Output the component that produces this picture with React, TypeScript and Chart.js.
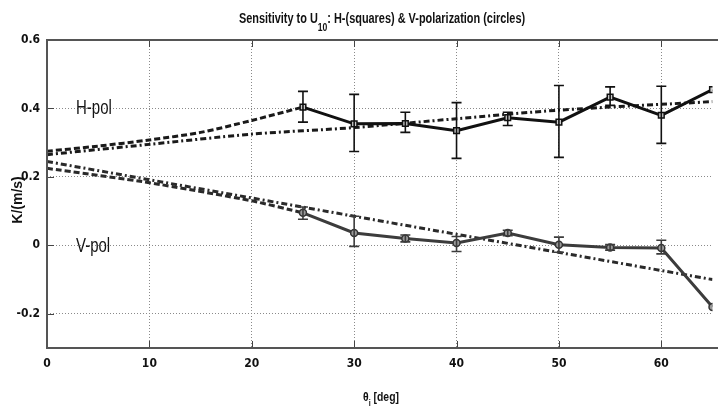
import React, { useEffect, useRef } from "react";
import { Chart, registerables } from "chart.js";
Chart.register(...registerables);

// ---- data ----
const angles = [25, 30, 35, 40, 45, 50, 55, 60, 65];
const hPol = [0.404, 0.355, 0.356, 0.335, 0.373, 0.36, 0.433, 0.38, 0.455];
const hLow = [0.36, 0.274, 0.33, 0.254, 0.35, 0.257, 0.409, 0.298, null];
const hHigh = [0.45, 0.441, 0.389, 0.417, 0.389, 0.467, 0.463, 0.465, null];
const vPol = [0.095, 0.036, 0.02, 0.007, 0.036, 0.002, -0.006, -0.008, -0.18];
const vLow = [0.076, -0.003, 0.01, -0.018, 0.028, -0.02, -0.014, -0.025, null];
const vHigh = [0.112, 0.085, 0.03, 0.026, 0.044, 0.024, 0.002, 0.015, null];

const hFitDashX = [0, 5, 10, 15, 20, 25];
const hFitDashY = [0.275, 0.29, 0.308, 0.33, 0.365, 0.404];
const hFitDotX = [0, 10, 20, 30, 40, 50, 65];
const hFitDotY = [0.265, 0.295, 0.325, 0.344, 0.37, 0.395, 0.42];
const vFitDashX = [0, 10, 20, 25];
const vFitDashY = [0.225, 0.183, 0.13, 0.095];
const vFitDotX = [0, 30, 65];
const vFitDotY = [0.245, 0.085, -0.1];

const xTicks = [0, 10, 20, 30, 40, 50, 60];
const yTicks = [-0.2, 0, 0.2, 0.4, 0.6];

const titleMain = "Sensitivity to U";
const titleSub = "10";
const titleRest = ": H-(squares) & V-polarization (circles)";
const xTitleMain = "\u03b8";
const xTitleSub = "i";
const xTitleRest = " [deg]";
const yTitle = "K/(m/s)";
const hLabel = "H-pol";
const vLabel = "V-pol";

const NARROW = '"Liberation Sans Narrow", "Arial Narrow", "DejaVu Sans Condensed", sans-serif';
const SANS = '"Liberation Sans", Arial, sans-serif';

const zip = (xs: number[], ys: (number | null)[]) => xs.map((x, i) => ({ x, y: ys[i] }));

const errorBars = {
  id: "errorBars",
  afterDatasetsDraw(chart: any) {
    const { ctx, scales } = chart;
    const sets = [
      { low: hLow, high: hHigh, color: "#111" },
      { low: vLow, high: vHigh, color: "#3c3c3c" },
    ];
    ctx.save();
    ctx.beginPath();
    ctx.rect(chart.chartArea.left, chart.chartArea.top, chart.chartArea.right - chart.chartArea.left, chart.chartArea.bottom - chart.chartArea.top);
    ctx.clip();
    sets.forEach((s) => {
      ctx.strokeStyle = s.color;
      ctx.lineWidth = 1.6;
      angles.forEach((a, i) => {
        const lo = s.low[i];
        const hi = s.high[i];
        if (lo == null || hi == null) return;
        const x = scales.x.getPixelForValue(a);
        const y1 = scales.y.getPixelForValue(lo);
        const y2 = scales.y.getPixelForValue(hi);
        ctx.beginPath();
        ctx.moveTo(x, y1);
        ctx.lineTo(x, y2);
        ctx.moveTo(x - 5, y1);
        ctx.lineTo(x + 5, y1);
        ctx.moveTo(x - 5, y2);
        ctx.lineTo(x + 5, y2);
        ctx.stroke();
      });
    });
    ctx.restore();
  },
};

function drawSubText(ctx: any, parts: [string, string, string], cx: number, baseline: number, font: string, subFont: string, subDrop: number, sx: number) {
  ctx.save();
  ctx.translate(cx, baseline);
  ctx.scale(sx, 1);
  ctx.font = font;
  const w1 = ctx.measureText(parts[0]).width;
  const w3 = ctx.measureText(parts[2]).width;
  ctx.font = subFont;
  const w2 = ctx.measureText(parts[1]).width;
  let x = -(w1 + w2 + w3) / 2;
  ctx.textAlign = "left";
  ctx.textBaseline = "alphabetic";
  ctx.font = font;
  ctx.fillText(parts[0], x, 0);
  x += w1;
  ctx.font = subFont;
  ctx.fillText(parts[1], x, subDrop);
  x += w2;
  ctx.font = font;
  ctx.fillText(parts[2], x, 0);
  ctx.restore();
}

function drawSqueezed(ctx: any, text: string, x: number, y: number, font: string, sx: number) {
  ctx.save();
  ctx.translate(x, y);
  ctx.scale(sx, 1);
  ctx.font = font;
  ctx.textAlign = "left";
  ctx.textBaseline = "middle";
  ctx.fillText(text, 0, 0);
  ctx.restore();
}

const frameAndText = {
  id: "frameAndText",
  afterDraw(chart: any) {
    const { ctx, chartArea, scales } = chart;
    const { left, top, bottom, right } = chartArea;
    ctx.save();
    // inner tick marks
    ctx.strokeStyle = "#444";
    ctx.lineWidth = 1;
    xTicks.forEach((v) => {
      const x = Math.round(scales.x.getPixelForValue(v)) + 0.5;
      ctx.beginPath();
      ctx.moveTo(x, bottom);
      ctx.lineTo(x, bottom - 7);
      ctx.moveTo(x, top);
      ctx.lineTo(x, top + 7);
      ctx.stroke();
    });
    yTicks.forEach((v) => {
      const y = Math.round(scales.y.getPixelForValue(v)) + 0.5;
      ctx.beginPath();
      ctx.moveTo(left, y);
      ctx.lineTo(left + 7, y);
      ctx.stroke();
    });
    // frame
    ctx.strokeStyle = "#555";
    ctx.lineWidth = 2;
    ctx.beginPath();
    ctx.moveTo(right + 10, top);
    ctx.lineTo(left, top);
    ctx.lineTo(left, bottom);
    ctx.lineTo(right + 10, bottom);
    ctx.stroke();

    ctx.fillStyle = "#111";
    // title
    drawSubText(ctx, [titleMain, titleSub, titleRest], 382, 23, `bold 14px ${SANS}`, `bold 11px ${SANS}`, 8, 0.78);
    // x title
    drawSubText(ctx, [xTitleMain, xTitleSub, xTitleRest], 381, 401, `bold 13px ${SANS}`, `bold 9px ${SANS}`, 5, 0.8);
    // y title
    ctx.save();
    ctx.translate(18, 200);
    ctx.rotate(-Math.PI / 2);
    ctx.scale(1, 1.1);
    ctx.font = `bold 14px ${SANS}`;
    ctx.textAlign = "center";
    ctx.textBaseline = "middle";
    ctx.fillText(yTitle, 0, 0);
    ctx.restore();
    // annotations
    ctx.fillStyle = "#151515";
    drawSqueezed(ctx, hLabel, 76, 108, `20px ${SANS}`, 0.75);
    drawSqueezed(ctx, vLabel, 76, 246, `20px ${SANS}`, 0.75);
    ctx.restore();
  },
};

export default function App() {
  const ref = useRef<HTMLCanvasElement>(null);
  useEffect(() => {
    if (!ref.current) return;
    const chart = new Chart(ref.current, {
      type: "line",
      data: {
        datasets: [
          {
            label: "H-pol",
            data: zip(angles, hPol),
            borderColor: "#111",
            borderWidth: 3,
            pointStyle: "rect",
            pointRadius: 4,
            pointBackgroundColor: "#ccc",
            pointBorderColor: "#111",
            pointBorderWidth: 1.5,
            tension: 0,
          },
          {
            label: "V-pol",
            data: zip(angles, vPol),
            borderColor: "#3c3c3c",
            borderWidth: 3,
            pointStyle: "circle",
            pointRadius: 3.5,
            pointBackgroundColor: "#999",
            pointBorderColor: "#333",
            pointBorderWidth: 1.5,
            tension: 0,
          },
          {
            label: "H fit 1",
            data: zip(hFitDashX, hFitDashY),
            borderColor: "#1a1a1a",
            borderWidth: 3,
            borderDash: [6, 3],
            pointRadius: 0,
            tension: 0.3,
          },
          {
            label: "H fit 2",
            data: zip(hFitDotX, hFitDotY),
            borderColor: "#1a1a1a",
            borderWidth: 3,
            borderDash: [6, 3, 2, 3],
            pointRadius: 0,
            tension: 0.3,
          },
          {
            label: "V fit 1",
            data: zip(vFitDashX, vFitDashY),
            borderColor: "#2a2a2a",
            borderWidth: 3,
            borderDash: [6, 3],
            pointRadius: 0,
            tension: 0.2,
          },
          {
            label: "V fit 2",
            data: zip(vFitDotX, vFitDotY),
            borderColor: "#2a2a2a",
            borderWidth: 3,
            borderDash: [6, 3, 2, 3],
            pointRadius: 0,
            tension: 0,
          },
        ],
      },
      options: {
        animation: false,
        responsive: true,
        maintainAspectRatio: false,
        layout: { padding: { top: 40, right: -6, left: 0, bottom: 0 } },
        plugins: { legend: { display: false }, tooltip: { enabled: false }, title: { display: false } },
        scales: {
          x: {
            type: "linear",
            min: 0,
            max: 65,
            afterBuildTicks: (s: any) => {
              s.ticks = xTicks.map((v) => ({ value: v }));
            },
            afterFit: (s: any) => {
              s.height = 67;
            },
            grid: { color: "#8a8a8a", lineWidth: 1, drawTicks: false },
            border: { display: false, dash: [1, 2] },
            ticks: {
              padding: 9,
              color: "#111",
              font: { family: NARROW, size: 12, weight: "bold" },
              maxRotation: 0,
            },
          },
          y: {
            type: "linear",
            min: -0.3,
            max: 0.6,
            afterBuildTicks: (s: any) => {
              s.ticks = yTicks.map((v) => ({ value: v }));
            },
            afterFit: (s: any) => {
              s.width = 47;
            },
            grid: { color: "#8a8a8a", lineWidth: 1, drawTicks: false },
            border: { display: false, dash: [1, 2] },
            ticks: {
              padding: 7,
              color: "#111",
              font: { family: NARROW, size: 12, weight: "bold" },
              callback: (v: any) => String(Math.round(Number(v) * 10) / 10),
            },
          },
        },
      },
      plugins: [errorBars, frameAndText],
    } as any);
    return () => chart.destroy();
  }, []);
  return (
    <div style={{ position: "fixed", left: 0, top: 0, width: 718, height: 415, background: "#fff" }}>
      <canvas ref={ref} />
    </div>
  );
}
